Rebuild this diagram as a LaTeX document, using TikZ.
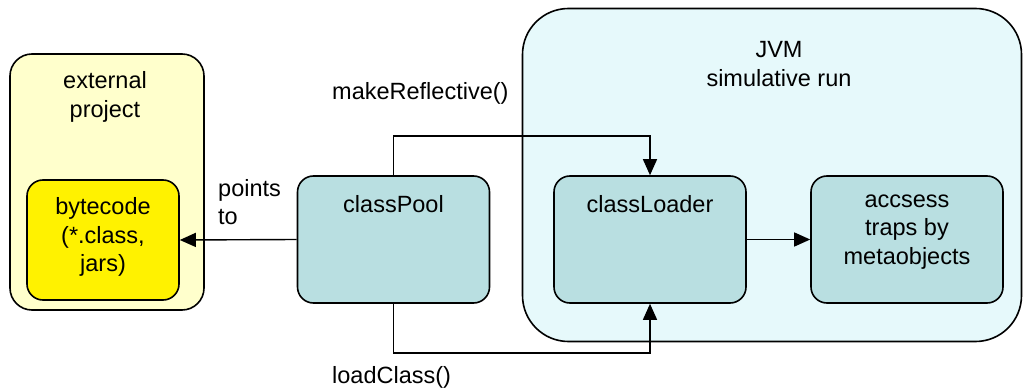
\documentclass[tikz,border=0pt]{standalone}
\usepackage{fontspec}
\setmainfont{Liberation Sans}
\usetikzlibrary{arrows.meta}
\definecolor{boxfill}{HTML}{B9DFE1}
\definecolor{jvmfill}{HTML}{E6F9FB}
\definecolor{extfill}{HTML}{FFFFCC}
\tikzset{
  txt/.style={font=\fontsize{23.5}{28.5}\selectfont, align=center, inner sep=0pt},
  box/.style={draw, line width=1.6pt, rounded corners=16pt, fill=boxfill, inner sep=0pt,
    minimum width=192pt, minimum height=127pt},
  conn/.style={line width=1.4pt, -{Triangle[length=16pt,width=14pt]}}
}
\begin{document}
\begin{tikzpicture}[x=1pt, y=-1pt]
  \useasboundingbox (0,0) rectangle (1025,390);
  % containers
  \node [draw, line width=1.6pt, rounded corners=22pt, fill=extfill, inner sep=0pt,
    minimum width=194pt, minimum height=256pt] (ext) at (107,182) {};
  \node [draw, line width=1.6pt, rounded corners=46pt, fill=jvmfill, inner sep=0pt,
    minimum width=499pt, minimum height=333pt] (jvm) at (772,175) {};
  \node [txt] (exttext) at (105,97) {external\\project};
  \node [txt] (jvmtext) at (779,64) {JVM\\simulative run};
  % boxes
  \node [box, fill=yellow, minimum width=152pt, minimum height=120pt] (byte) at (103,240) {};
  \node [box] (pool) at (393.5,239.5) {};
  \node [box] (loader) at (650,239.5) {};
  \node [box] (access) at (907,239.5) {};
  \node [txt] (bytetext) at (103,237) {bytecode\\(*.class,\\jars)};
  \node [txt] (pooltext) at (393.5,204) {classPool};
  \node [txt] (loadertext) at (650,204) {classLoader};
  \node [txt] (accesstext) at (907,232) {accsess\\traps by\\metaobjects};
  % connectors
  \draw [conn] (pool.west) -- (byte.east);
  \draw [conn] (loader.east) -- (access.west);
  \draw [conn] (pool.north) -- ++(0,-39) -| (loader.north);
  \draw [conn] (pool.south) -- ++(0,49) -| (loader.south);
  \node [txt, align=left, anchor=west] (points) at (218,202) {points\\to};
  \node [txt, anchor=west] (make) at (332,93) {makeReflective()};
  \node [txt, anchor=west] (load) at (332,377) {loadClass()};
\end{tikzpicture}
\end{document}
